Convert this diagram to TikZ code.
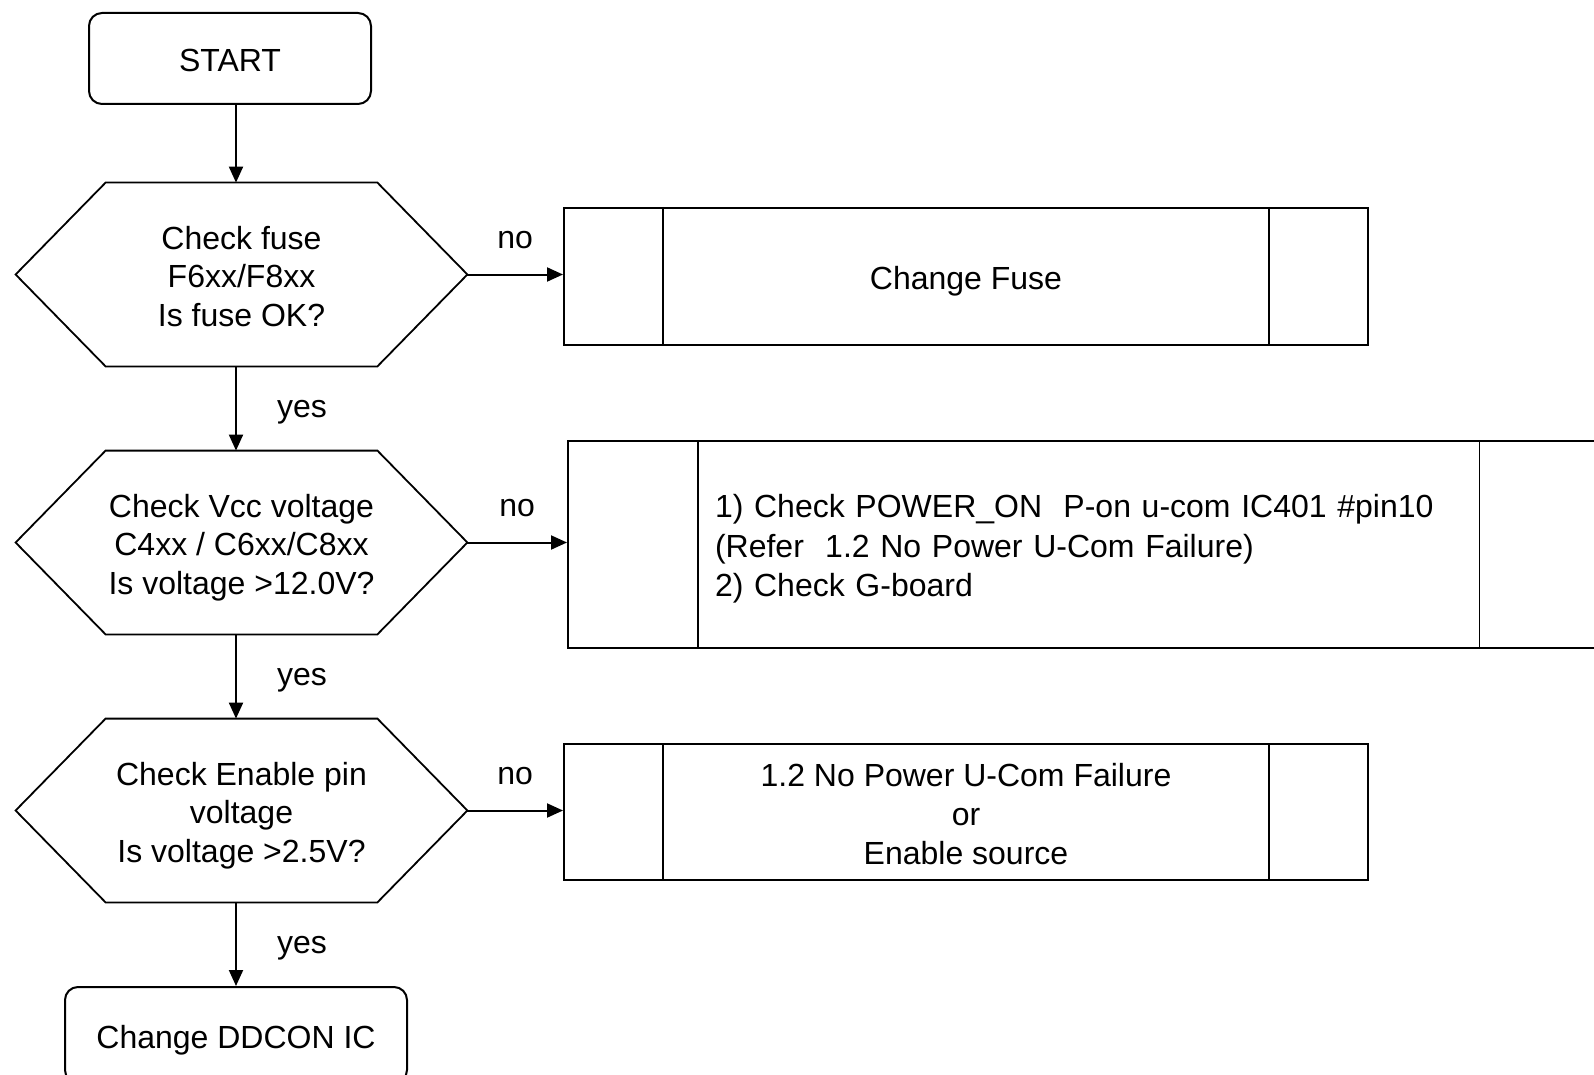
\documentclass[tikz,border=0pt]{standalone}
\usepackage{fontspec}
\setmainfont{Liberation Sans}
\usetikzlibrary{arrows.meta}
\newcommand{\topstrut}{\rule{0pt}{16.8pt}}
\newcommand{\botstrut}{\rule[-3.4pt]{0pt}{0pt}}
\tikzset{
  every node/.style={font=\fontsize{16}{19.3}\selectfont},
  boxtext/.style={execute at begin node={\rule{0pt}{#1}},execute at end node={\rule[-0.212em]{0pt}{0pt}}},
  boxtext/.default=16.5pt,
  flow/.style={line width=1pt,-{Triangle[length=8pt,width=7pt]}},
  term/.style={draw,line width=1pt,rounded corners=6.5pt,align=center,boxtext},
  decide/.style={minimum width=225.5pt,minimum height=91.5pt,align=center,inner sep=0pt},
  proc/.style={draw,line width=1pt,align=center,inner sep=0pt},
  lbl/.style={inner sep=0pt},
}
\begin{document}
\begin{tikzpicture}[x=0.5pt,y=-0.5pt]
        \useasboundingbox (0,0) rectangle (1594,1075);
        % left column
        \node[term,minimum width=141pt,minimum height=45.5pt] (start) at (230,58.5) {START};
        \node[decide] (q1) at (241.5,274.5) {\topstrut Check fuse\\F6xx/F8xx\\Is fuse OK?\botstrut};
        \node[decide] (q2) at (241.5,542.5) {\topstrut Check Vcc voltage\\C4xx / C6xx/C8xx\\Is voltage >12.0V?};
        \node[decide] (q3) at (241.5,810.5) {\topstrut Check Enable pin\\voltage\\Is voltage >2.5V?};
        \node[term,minimum width=171pt,minimum height=48pt] (fin) at (236,1035) {Change DDCON IC};
        \foreach \q in {q1,q2,q3}{
            \draw[line width=0.9pt] (\q.west) -- ([xshift=45pt]\q.north west) -- ([xshift=-45pt]\q.north east)
                -- (\q.east) -- ([xshift=-45pt]\q.south east) -- ([xshift=45pt]\q.south west) -- cycle;
            };
        % right column
        \node[proc,minimum width=402pt,minimum height=68.5pt,boxtext] (fix1) at (966,276.5) {Change Fuse};
        \node[proc,minimum height=103.5pt,text width=373.5pt,inner xsep=73.5pt,align=left,boxtext=16pt,
            font=\fontsize{16}{19.6}\selectfont] (fix2) at (1088.5,544.5)
            {1) Check POWER\_ON\ \ P-on u-com IC401 \#pin10\\(Refer\ \ 1.2 No Power U-Com Failure)\\2) Check G-board};
        \node[proc,minimum width=402pt,minimum height=68pt] (fix3) at (966,812)
            {\topstrut 1.2 No Power U-Com Failure\\or\\Enable source\botstrut};
        \foreach \b/\d in {fix1/50pt,fix2/65.3pt,fix3/50pt}{
            \draw[line width=0.9pt] ([xshift=\d]\b.north west) -- ([xshift=\d]\b.south west);
            \draw[line width=0.9pt] ([xshift=-\d]\b.north east) -- ([xshift=-\d]\b.south east);
            };
        % connectors
        \draw[flow] (start.south -| fin.north) -- (q1.north -| fin.north);
        \draw[flow] (q1.south -| fin.north) -- node[lbl,right=20pt,yshift=-2pt] (y1) {yes} (q2.north -| fin.north);
        \draw[flow] (q2.south -| fin.north) -- node[lbl,right=20pt,yshift=-2pt] (y2) {yes} (q3.north -| fin.north);
        \draw[flow] (q3.south -| fin.north) -- node[lbl,right=20pt,yshift=-2pt] (y3) {yes} (fin.north);
        \draw[flow] (q1.east) -- node[lbl,above=12.5pt] (n1) {no} (q1.east -| fix1.west);
        \draw[flow] (q2.east) -- node[lbl,above=12.5pt] (n2) {no} (q2.east -| fix2.west);
        \draw[flow] (q3.east) -- node[lbl,above=12.5pt] (n3) {no} (q3.east -| fix3.west);
    \end{tikzpicture}
\end{document}
